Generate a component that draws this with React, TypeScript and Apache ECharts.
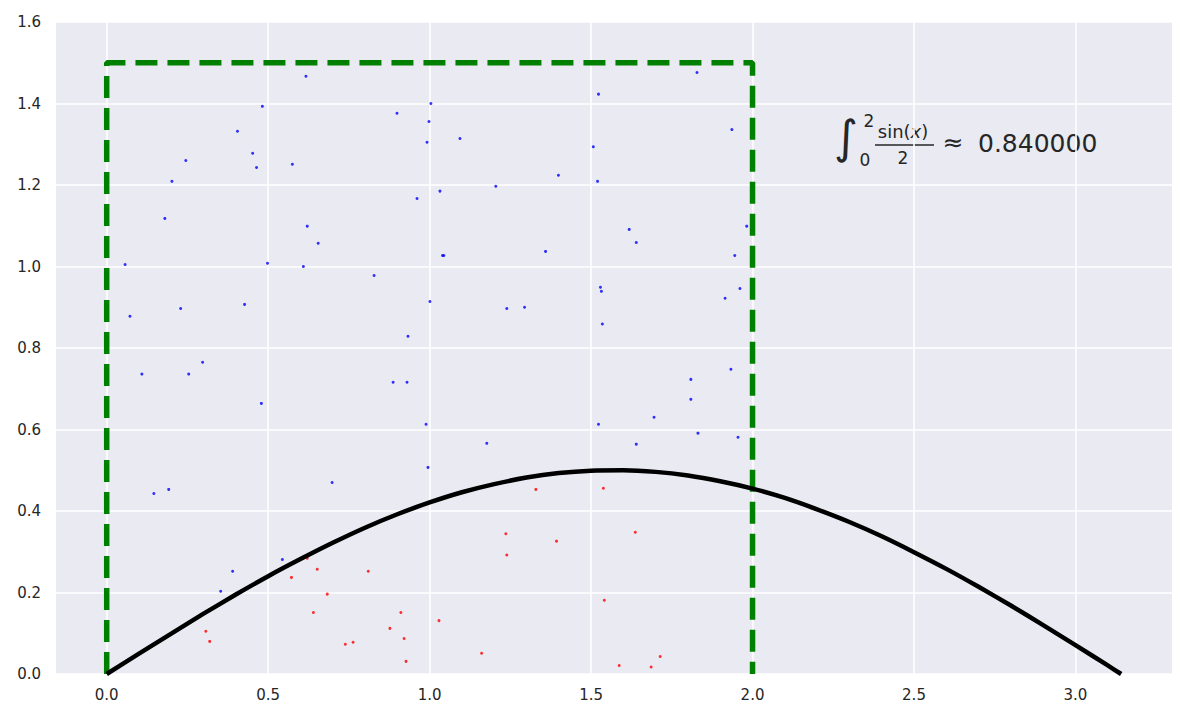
import React, { useEffect, useRef } from "react";
import * as echarts from "echarts";

// Points that fall above the curve (blue)
const bluePoints: [number, number][] = [
  [0.617, 1.467], [1.828, 1.476], [0.482, 1.393], [1.004, 1.4], [0.899, 1.376],
  [1.523, 1.423], [0.405, 1.332], [0.998, 1.356], [1.094, 1.314], [0.992, 1.305],
  [1.936, 1.336], [0.452, 1.278], [0.464, 1.243], [0.575, 1.251], [0.245, 1.26],
  [1.507, 1.294], [0.202, 1.209], [1.399, 1.224], [1.52, 1.209], [1.205, 1.197],
  [1.032, 1.185], [0.961, 1.167], [0.18, 1.118], [0.621, 1.099], [0.655, 1.057],
  [0.057, 1.005], [0.498, 1.008], [0.609, 1.0], [1.04, 1.027], [1.044, 1.027],
  [1.618, 1.091], [1.64, 1.059], [1.982, 1.099], [1.945, 1.027], [1.359, 1.037],
  [0.072, 0.878], [0.229, 0.897], [0.427, 0.907], [0.109, 0.736], [0.254, 0.736],
  [0.297, 0.765], [0.479, 0.664], [0.828, 0.978], [1.001, 0.914], [1.239, 0.897],
  [1.294, 0.9], [0.933, 0.829], [0.887, 0.716], [0.93, 0.716], [0.989, 0.613],
  [1.177, 0.566], [0.995, 0.507], [1.529, 0.949], [1.532, 0.939], [1.961, 0.946],
  [1.915, 0.922], [1.535, 0.859], [1.933, 0.748], [1.809, 0.723], [1.809, 0.674],
  [1.695, 0.63], [1.523, 0.613], [1.831, 0.591], [1.955, 0.581], [1.64, 0.564],
  [0.146, 0.443], [0.192, 0.453], [0.39, 0.252], [0.353, 0.203], [0.544, 0.281],
  [0.698, 0.47],
];

// Points that fall under the curve (red)
const redPoints: [number, number][] = [
  [0.307, 0.105], [0.319, 0.08], [0.572, 0.237], [0.621, 0.284], [0.652, 0.257],
  [0.64, 0.151], [1.329, 0.453], [1.236, 0.344], [1.239, 0.292], [0.81, 0.252],
  [0.683, 0.196], [0.911, 0.151], [0.877, 0.112], [0.921, 0.087], [0.763, 0.078],
  [0.739, 0.073], [0.927, 0.031], [1.029, 0.131], [1.161, 0.051], [1.538, 0.456],
  [1.393, 0.326], [1.637, 0.348], [1.541, 0.181], [1.714, 0.043], [1.587, 0.021],
  [1.686, 0.017],
];

// Curve y = sin(x)/2
const curveX = [0, 0.1, 0.2, 0.3, 0.4, 0.5, 0.6, 0.7, 0.8, 0.9, 1.0, 1.1, 1.2, 1.3, 1.4, 1.5,
  1.6, 1.7, 1.8, 1.9, 2.0, 2.1, 2.2, 2.3, 2.4, 2.5, 2.6, 2.7, 2.8, 2.9, 3.0, 3.1, 3.1416];
const curveY = [0, 0.05, 0.099, 0.148, 0.195, 0.24, 0.282, 0.322, 0.359, 0.392, 0.421, 0.446,
  0.466, 0.482, 0.493, 0.499, 0.5, 0.496, 0.487, 0.473, 0.455, 0.432, 0.404, 0.373, 0.338,
  0.299, 0.258, 0.214, 0.168, 0.12, 0.071, 0.021, 0];

// Dashed sampling box
const boxX = [0, 0, 2, 2];
const boxY = [0, 1.5, 1.5, 0];

const xTicks = [0, 0.5, 1.0, 1.5, 2.0, 2.5, 3.0];
const xMin = -0.157;
const xMax = 3.299;
const yMin = 0;
const yMax = 1.6;

const resultText = "0.840000";

const TEXT = "#262626";
const FONT = "DejaVu Sans";

export default function App() {
  const ref = useRef<HTMLDivElement>(null);
  useEffect(() => {
    if (!ref.current) return;
    const chart = echarts.init(ref.current, undefined, { renderer: "svg" });
    const option: any = {
      animation: false,
      backgroundColor: "#ffffff",
      grid: {
        left: 56,
        top: 22,
        width: 1116,
        height: 652,
        show: true,
        backgroundColor: "#EAEAF2",
        borderWidth: 0,
      },
      xAxis: {
        type: "value",
        min: xMin,
        max: xMax,
        axisLine: { show: false },
        axisTick: { show: false, customValues: xTicks },
        axisLabel: {
          customValues: xTicks,
          formatter: (v: number) => v.toFixed(1),
          color: TEXT,
          fontSize: 15,
          fontFamily: FONT,
          margin: 13,
        },
        splitLine: { show: true, lineStyle: { color: "#ffffff", width: 1.6 } },
      },
      yAxis: {
        type: "value",
        min: yMin,
        max: yMax,
        interval: 0.2,
        axisLine: { show: false },
        axisTick: { show: false },
        axisLabel: {
          formatter: (v: number) => v.toFixed(1),
          color: TEXT,
          fontSize: 15,
          fontFamily: FONT,
          margin: 15,
        },
        splitLine: { show: true, lineStyle: { color: "#ffffff", width: 1.6 } },
      },
      series: [
        {
          type: "scatter",
          data: bluePoints,
          symbol: "circle",
          symbolSize: 3,
          itemStyle: { color: "#0000ff" },
          z: 2,
        },
        {
          type: "scatter",
          data: redPoints,
          symbol: "circle",
          symbolSize: 3,
          itemStyle: { color: "#ff0000" },
          z: 2,
        },
        {
          type: "line",
          data: boxX.map((x, i) => [x, boxY[i]]),
          showSymbol: false,
          lineStyle: { color: "#008000", width: 5.5, type: [22, 10], cap: "butt" },
          z: 3,
        },
        {
          type: "line",
          data: curveX.map((x, i) => [x, curveY[i]]),
          showSymbol: false,
          smooth: 0.2,
          lineStyle: { color: "#000000", width: 4.5 },
          z: 4,
        },
      ],
      graphic: [
        {
          type: "text",
          style: { text: "∫", x: 846, y: 137, align: "center", verticalAlign: "middle", fontSize: 46, fontFamily: FONT, fill: TEXT },
        },
        {
          type: "text",
          style: { text: "2", x: 869, y: 121, align: "center", verticalAlign: "middle", fontSize: 17, fontFamily: FONT, fill: TEXT },
        },
        {
          type: "text",
          style: { text: "0", x: 865, y: 160, align: "center", verticalAlign: "middle", fontSize: 17, fontFamily: FONT, fill: TEXT },
        },
        {
          type: "text",
          style: {
            text: "sin({i|x})",
            x: 903,
            y: 131,
            align: "center",
            verticalAlign: "middle",
            fontSize: 18,
            fontFamily: FONT,
            fill: TEXT,
            rich: { i: { fontStyle: "italic", fontSize: 18, fontFamily: FONT, fill: TEXT } },
          },
        },
        {
          type: "line",
          shape: { x1: 875, y1: 145, x2: 934, y2: 145 },
          style: { stroke: TEXT, lineWidth: 1.6 },
        },
        {
          type: "text",
          style: { text: "2", x: 903, y: 158, align: "center", verticalAlign: "middle", fontSize: 17, fontFamily: FONT, fill: TEXT },
        },
        {
          type: "text",
          style: { text: "≈", x: 953, y: 142, align: "center", verticalAlign: "middle", fontSize: 25, fontFamily: FONT, fill: TEXT },
        },
        {
          type: "text",
          style: { text: resultText, x: 978, y: 143, align: "left", verticalAlign: "middle", fontSize: 25, fontFamily: FONT, fill: TEXT },
        },
      ],
    };
    chart.setOption(option);
    return () => chart.dispose();
  }, []);
  return (
    <div
      ref={ref}
      style={{ position: "fixed", left: 0, top: 0, width: 1186, height: 721, background: "#fff" }}
    />
  );
}
